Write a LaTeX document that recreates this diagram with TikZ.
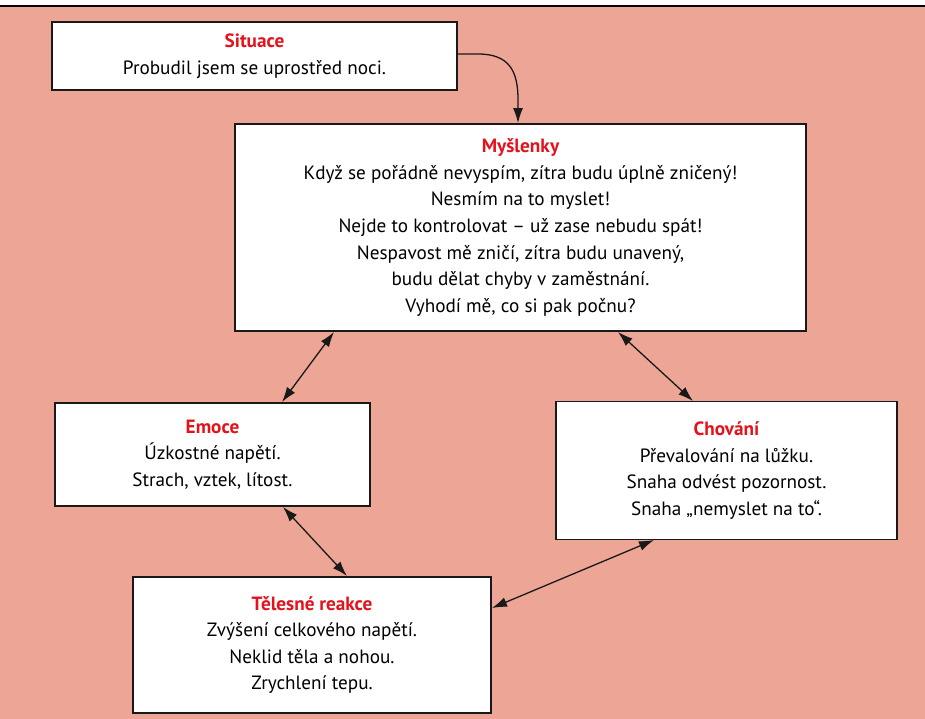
\documentclass[tikz,border=0pt]{standalone}
\usepackage{fontspec}
\setmainfont{PT Sans}
\usetikzlibrary{arrows.meta}
\definecolor{bgpink}{RGB}{237,166,150}
\definecolor{titlered}{RGB}{228,18,28}
\tikzset{
  box/.style={draw=black!90, line width=1.8pt, fill=white, align=center, inner sep=0pt,
    font=\fontsize{19.2}{26.6}\selectfont, text=black},
  conn/.style={line width=1.3pt, draw=black!90, {Latex[length=15pt,width=10pt]}-{Latex[length=15pt,width=10pt]}},
  conn1/.style={line width=1.3pt, draw=black!90, -{Latex[length=15pt,width=10pt]}}
}
\newcommand{\ttl}[1]{{\bfseries\color{titlered}#1}}
\begin{document}
\begin{tikzpicture}[x=1pt,y=-1pt]
\useasboundingbox (0,0) rectangle (925,719);
\fill[white] (0,0) rectangle (925,6);
\fill[bgpink] (0,6) rectangle (925,719);
\draw[line width=2.2pt] (0,6) -- (925,6);

\node[box, minimum width=405pt, minimum height=68pt] (sit) at (254.5,56)
  {\ttl{Situace}\\Probudil jsem se uprostřed noci.};
\node[box, minimum width=571pt, minimum height=207pt] (mys) at (520.5,227.5)
  {\ttl{Myšlenky}\\Když se pořádně nevyspím, zítra budu úplně zničený!\\Nesmím na to myslet!\\Nejde to kontrolovat – už zase nebudu spát!\\Nespavost mě zničí, zítra budu unavený,\\budu dělat chyby v zaměstnání.\\Vyhodí mě, co si pak počnu?};
\node[box, minimum width=315pt, minimum height=103pt] (emo) at (212.5,454.5)
  {\ttl{Emoce}\\Úzkostné napětí.\\Strach, vztek, lítost.};
\node[box, minimum width=341pt, minimum height=138pt] (cho) at (726.5,470.5)
  {\ttl{Chování}\\Převalování na lůžku.\\Snaha odvést pozornost.\\Snaha „nemyslet na to“.};
\node[box, minimum width=358pt, minimum height=136pt] (tel) at (312,645)
  {\ttl{Tělesné reakce}\\Zvýšení celkového napětí.\\Neklid těla a nohou.\\Zrychlení tepu.};

\coordinate (m1) at (334,332);
\coordinate (e1) at (282,402);
\coordinate (m2) at (618,332);
\coordinate (c2) at (693,401);
\coordinate (e3) at (283,507);
\coordinate (t3) at (347,576);
\coordinate (c4) at (654,540);
\coordinate (t4) at (492,608);

\draw[conn1] (sit.east |- 0,54) -- (478,54) .. controls (510,54) and (518,72) .. (518,100) -- (mys.north -| 518,0);
\draw[conn] (m1) -- (e1);
\draw[conn] (m2) -- (c2);
\draw[conn] (e3) -- (t3);
\draw[conn] (c4) -- (t4);
\end{tikzpicture}
\end{document}
